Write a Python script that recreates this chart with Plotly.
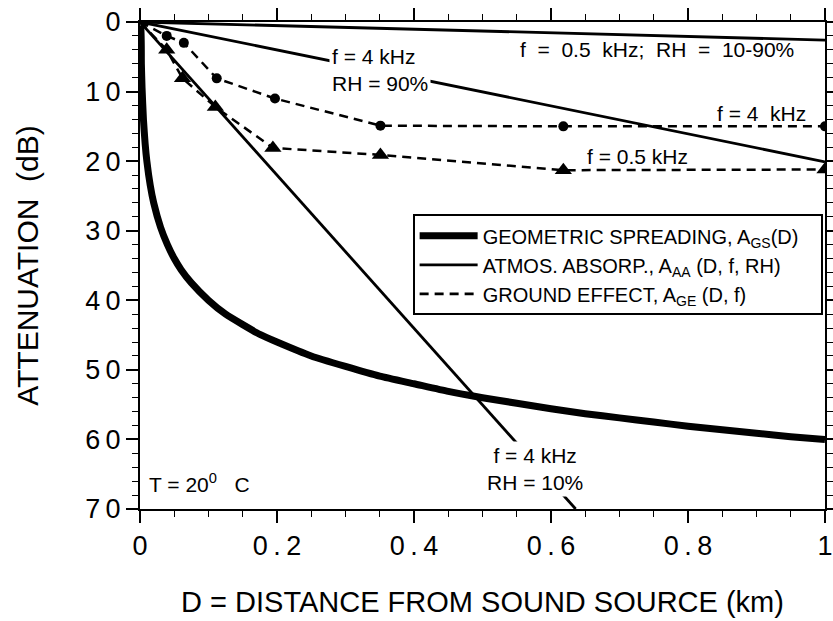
import plotly.graph_objects as go

# Geometric spreading
gs_d = [0.0, 0.001, 0.002, 0.003, 0.005, 0.0075, 0.01, 0.015, 0.02, 0.03, 0.04, 0.05, 0.06, 0.075, 0.1, 0.125,
        0.15, 0.175, 0.2, 0.25, 0.3, 0.35, 0.4, 0.45, 0.5, 0.55, 0.6, 0.65, 0.7, 0.75, 0.8, 0.85, 0.9, 0.95, 1.0]
gs_a = [0.0, 0.0, 6.0, 9.5, 14.0, 17.5, 20.0, 23.5, 26.0, 29.5, 32.0, 34.0, 35.6, 37.5, 40.0, 42.0,
        43.5, 44.9, 46.0, 48.0, 49.5, 50.9, 52.0, 53.1, 54.0, 54.8, 55.6, 56.3, 56.9, 57.5, 58.1, 58.6, 59.1, 59.6, 60.0]

# Atmospheric absorption lines
aa_05_d = [0.0, 1.0]
aa_05_a = [0.0, 2.6]
aa_4_90_d = [0.0, 1.0]
aa_4_90_a = [0.0, 20.1]
aa_4_10_d = [0.0, 0.636]
aa_4_10_a = [0.0, 70.0]

# Ground effect
ge_4_d = [0.0, 0.039, 0.064, 0.112, 0.197, 0.351, 0.618, 1.0]
ge_4_a = [0.0, 2.0, 3.0, 8.1, 11.0, 14.9, 15.0, 15.0]
ge_05_d = [0.0, 0.039, 0.062, 0.110, 0.194, 0.351, 0.618, 1.0]
ge_05_a = [0.0, 4.0, 8.1, 12.2, 18.1, 19.1, 21.3, 21.2]

x_ticks = [0, 0.2, 0.4, 0.6, 0.8, 1.0]
x_ticktext = ["0", "0\u2009.\u20092", "0\u2009.\u20094", "0\u2009.\u20096", "0\u2009.\u20098", "1"]
y_ticks = [0, 10, 20, 30, 40, 50, 60, 70]
y_ticktext = ["0", "1\u20090", "2\u20090", "3\u20090", "4\u20090", "5\u20090", "6\u20090", "7\u20090"]

FONT = "Liberation Sans, Arial, sans-serif"
K = "black"
NB = "\u00a0"

fig = go.Figure()

fig.add_trace(go.Scatter(x=gs_d, y=gs_a, mode="lines", line=dict(color=K, width=7, shape="spline", smoothing=0.5),
                         showlegend=False, hoverinfo="skip"))
for d, a in [(aa_05_d, aa_05_a), (aa_4_90_d, aa_4_90_a), (aa_4_10_d, aa_4_10_a)]:
    fig.add_trace(go.Scatter(x=d, y=a, mode="lines", line=dict(color=K, width=2.8),
                             showlegend=False, hoverinfo="skip"))
fig.add_trace(go.Scatter(x=ge_4_d, y=ge_4_a, mode="lines", line=dict(color=K, width=2.5, dash="9px,6px"),
                         showlegend=False, hoverinfo="skip"))
fig.add_trace(go.Scatter(x=ge_4_d[1:], y=ge_4_a[1:], mode="markers",
                         marker=dict(symbol="circle", size=10, color=K),
                         showlegend=False, hoverinfo="skip"))
fig.add_trace(go.Scatter(x=ge_05_d, y=ge_05_a, mode="lines", line=dict(color=K, width=2.5, dash="9px,6px"),
                         showlegend=False, hoverinfo="skip"))
fig.add_trace(go.Scatter(x=ge_05_d[1:], y=ge_05_a[1:], mode="markers",
                         marker=dict(symbol="triangle-up", size=15, color=K),
                         showlegend=False, hoverinfo="skip"))

# legend entries
fig.add_trace(go.Scatter(x=[None], y=[None], mode="lines", line=dict(color=K, width=7),
                         name="GEOMETRIC SPREADING, A<sub>GS</sub>(D)" + NB * 3))
fig.add_trace(go.Scatter(x=[None], y=[None], mode="lines", line=dict(color=K, width=2.8),
                         name="ATMOS. ABSORP., A<sub>AA</sub> (D, f, RH)"))
fig.add_trace(go.Scatter(x=[None], y=[None], mode="lines", line=dict(color=K, width=2.8, dash="9px,6px"),
                         name="GROUND EFFECT, A<sub>GE</sub> (D, f)"))

ann_font = dict(family=FONT, size=21, color=K)
annotations = [
    dict(x=0.276, y=6.9, text="f = 4 kHz<br>RH = 90%", xanchor="left", yanchor="middle",
         align="left", bgcolor="white", borderpad=2),
    dict(x=0.552, y=4.0, text="f" + NB + " = " + NB + "0.5" + NB + " kHz;" + NB + " RH" + NB + " = " + NB + "10-90%",
         xanchor="left", yanchor="middle"),
    dict(x=0.975, y=13.1, text="f = 4" + NB + " kHz", xanchor="right", yanchor="middle"),
    dict(x=0.65, y=19.4, text="f = 0.5 kHz", xanchor="left", yanchor="middle"),
    dict(x=0.576, y=64.3, text="f = 4 kHz<br>RH = 10%", xanchor="center", yanchor="middle",
         align="center", bgcolor="white", borderpad=2),
    dict(x=0.01, y=66.3, text="T = 20<sup>0</sup>" + NB * 2 + " C", xanchor="left", yanchor="middle"),
]
for a in annotations:
    a.update(xref="x", yref="y", showarrow=False, font=ann_font)

fig.update_layout(
    width=833, height=621,
    margin=dict(l=140, r=8, t=22, b=112, autoexpand=False),
    paper_bgcolor="white", plot_bgcolor="white",
    font=dict(family=FONT, color=K),
    annotations=annotations,
    legend=dict(x=0.398, y=0.605, xanchor="left", yanchor="top", itemwidth=58,
                bgcolor="white", bordercolor=K, borderwidth=2,
                font=dict(family=FONT, size=20, color=K), tracegroupgap=0),
)
fig.update_xaxes(range=[0, 1], tickvals=x_ticks, ticktext=x_ticktext, automargin=False,
                 ticklabeloverflow="allow",
                 showgrid=False, zeroline=False, showline=True, linecolor=K, linewidth=2,
                 mirror="ticks", ticks="outside", ticklen=12, tickwidth=1.5, tickcolor=K,
                 minor=dict(dtick=0.05, ticks="outside", ticklen=6, tickwidth=1.2, tickcolor=K, showgrid=False),
                 tickfont=dict(family=FONT, size=27, color=K),
                 title=dict(text="D = DISTANCE FROM SOUND SOURCE (km)", font=dict(family=FONT, size=29, color=K),
                            standoff=31))
fig.update_yaxes(range=[70, 0], tickvals=y_ticks, ticktext=y_ticktext, automargin=False,
                 ticklabeloverflow="allow",
                 showgrid=False, zeroline=False, showline=True, linecolor=K, linewidth=2,
                 mirror="ticks", ticks="outside", ticklen=12, tickwidth=1.5, tickcolor=K,
                 minor=dict(dtick=2, ticks="outside", ticklen=6, tickwidth=1.2, tickcolor=K, showgrid=False),
                 tickfont=dict(family=FONT, size=27, color=K),
                 title=dict(text="ATTENUATION" + NB + " (dB)", font=dict(family=FONT, size=30, color=K),
                            standoff=38))

fig.write_html("out.html")
